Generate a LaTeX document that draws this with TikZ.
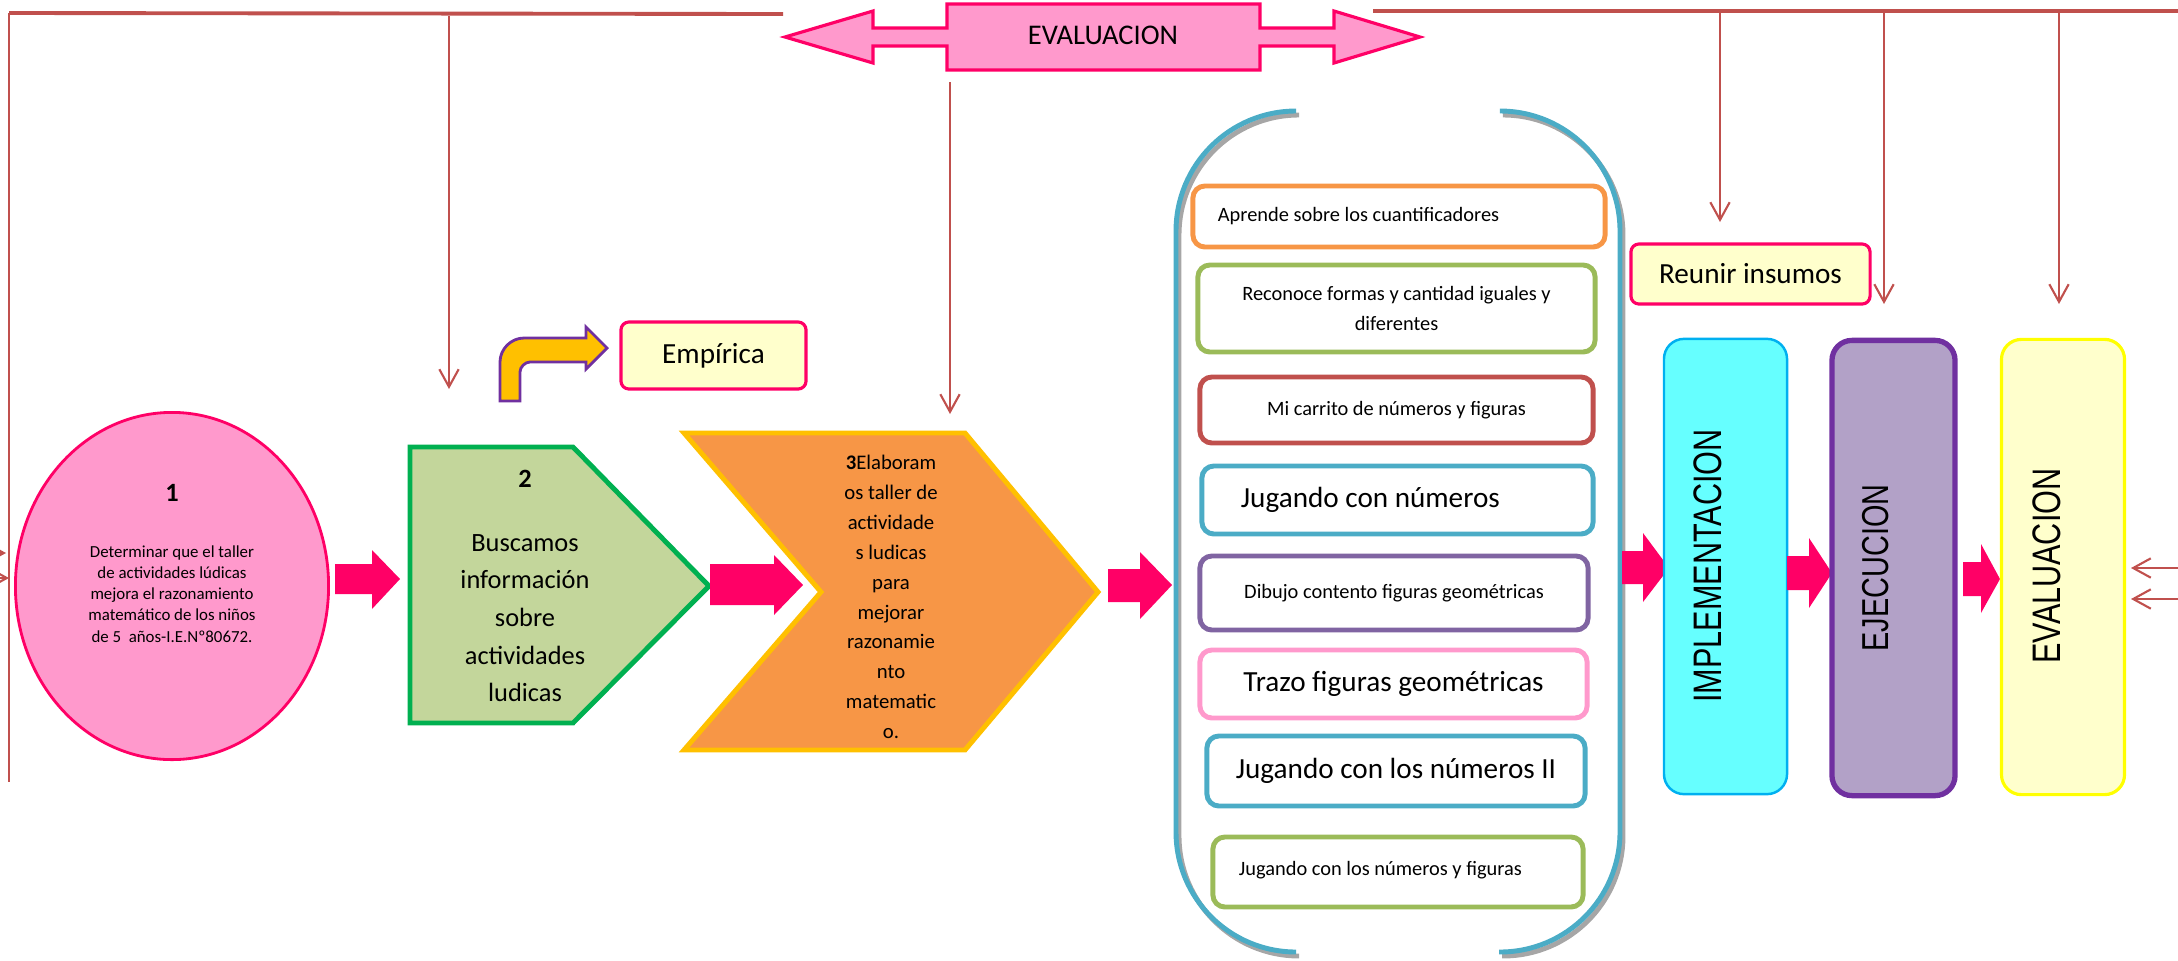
\documentclass[tikz,border=0pt]{standalone}
\usepackage{fontspec}
\setmainfont{Carlito}
\newfontfamily\arialfont{Liberation Sans}
\usepackage{graphicx}
\usepackage{tikz}
\usetikzlibrary{shapes.geometric,arrows.meta}

\definecolor{linered}{HTML}{C0504D}
\definecolor{pinkfill}{HTML}{FF99CC}
\definecolor{pinkborder}{HTML}{FF0066}
\definecolor{creamfill}{HTML}{FFFFCC}
\definecolor{sagefill}{HTML}{C3D69B}
\definecolor{sageborder}{HTML}{00B050}
\definecolor{orangefill}{HTML}{F79646}
\definecolor{goldborder}{HTML}{FFC000}
\definecolor{tealline}{HTML}{4BACC6}
\definecolor{itemgreen}{HTML}{9BBB59}
\definecolor{itempurple}{HTML}{8064A2}
\definecolor{cyanfill}{HTML}{66FFFF}
\definecolor{cyanborder}{HTML}{00B0F0}
\definecolor{lilacfill}{HTML}{B2A1C7}
\definecolor{violet}{HTML}{7030A0}
\definecolor{lemon}{HTML}{FFFF00}

\begin{document}
\begin{tikzpicture}[x=0.01cm,y=-0.01cm,
	feedback/.style={draw=linered,line width=0.6pt,-{Straight Barb[length=5pt,width=5.5pt]}},
	blockarrow/.style={fill=pinkborder},
	item/.style={draw=#1,line width=1.4pt,fill=white,rounded corners=0.12cm,inner sep=0pt},
	smalltext/.style={font=\fontsize{5.8}{8.5}\selectfont},
	bigtext/.style={font=\fontsize{8.3}{10}\selectfont},
	notebox/.style={draw=pinkborder,fill=creamfill,line width=0.9pt,rounded corners=0.08cm,font=\fontsize{8.3}{10}\selectfont},
	phase/.style 2 args={draw=#1,fill=#2,rounded corners=0.2cm,minimum width=1.23cm,minimum height=4.55cm,inner sep=0pt},
	phasetext/.style={rotate=90,font=\arialfont\fontsize{#1}{10}\selectfont}]
	\useasboundingbox (0,0) rectangle (2178,960);
	
	%feedback lines along the top
	\coordinate (tl) at (9,13);
	\coordinate (tm) at (783,14);
	\coordinate (bl) at (9,782);
	\coordinate (tr) at (1373,11);
	\coordinate (trr) at (2178,11);
	\draw[linered,line width=1.1pt] (tl) -- (tm);
	\draw[linered,line width=0.6pt] (tl) -- (bl);
	\draw[linered,line width=1.1pt] (tr) -- (trr);
	
	%the double arrow of the evaluation
	\filldraw[fill=pinkfill,draw=pinkborder,line width=0.9pt] (785,37) -- (873,11) -- (873,28) -- (947,28) -- (947,4) -- (1260,4) -- (1260,28) -- (1334,28) -- (1334,11) -- (1420,37) -- (1334,63) -- (1334,46) -- (1260,46) -- (1260,70) -- (947,70) -- (947,46) -- (873,46) -- (873,63) -- cycle;
	\node[font=\fontsize{8.1}{10}\selectfont] (evaltop) at (1103,35) {EVALUACION};
	
	%the arrows coming down
	\draw[feedback] (449,16) -- (449,389);
	\draw[feedback] (950,82) -- (950,414);
	\draw[feedback] (1720,11) -- (1720,222);
	\draw[feedback] (1884,11) -- (1884,304);
	\draw[feedback] (2059,11) -- (2059,304);
	
	%arrows at the two sides
	\draw[feedback] (-20,553) -- (6,553);
	\draw[feedback] (-20,578) -- (9,578);
	\draw[feedback] (2178,568) -- (2131,568);
	\draw[feedback] (2178,599) -- (2131,599);
	
	%step 1, the objective
	\node[ellipse,draw=pinkborder,fill=pinkfill,line width=0.8pt,minimum width=3.13cm,minimum height=3.47cm,inner sep=0pt] (obj) at (172,586) {};
	\node[font=\bfseries\fontsize{7.5}{9}\selectfont] (objnum) at (172,493) {1};
	\node[align=center,font=\fontsize{4.8}{6}\selectfont] (objtxt) at (172,594) {Determinar que el taller\\de actividades lúdicas\\mejora el razonamiento\\matemático de los niños\\de 5~ años-I.E.Nº80672.};
	\fill[blockarrow] (335,564) -- (372,564) -- (372,550) -- (400,579) -- (372,609) -- (372,594) -- (335,594) -- cycle;
	
	%step 2, the search
	\filldraw[fill=sagefill,draw=sageborder,line width=1.4pt] (410,447) -- (573,447) -- (709,586) -- (573,723) -- (410,723) -- cycle;
	\node[font=\bfseries\fontsize{7.5}{9}\selectfont] (searchnum) at (525,479) {2};
	\node[align=center,font=\fontsize{7.5}{10.7}\selectfont] (searchtxt) at (525,618) {Buscamos\\información\\sobre\\actividades\\ludicas};
	\filldraw[fill=goldborder,draw=violet,line width=0.8pt] (500,401) -- (500,362) .. controls (500,349) and (511,338) .. (524,338) -- (586,338) -- (586,327) -- (607,348) -- (586,369) -- (586,362) -- (530,362) .. controls (525,362) and (520,367) .. (520,372) -- (520,401) -- cycle;
	\node[notebox,minimum width=1.85cm,minimum height=0.67cm] (empirica) at (713.5,355.5) {Empírica};
	\fill[blockarrow] (710,564) -- (774,564) -- (774,555) -- (803,585) -- (774,615) -- (774,605) -- (710,605) -- cycle;
	
	%step 3, the workshop
	\filldraw[fill=orangefill,draw=goldborder,line width=1.4pt] (684,433) -- (965,433) -- (1098,592) -- (965,750) -- (684,750) -- (821,592) -- cycle;
	\node[align=center,font=\fontsize{5.9}{8.5}\selectfont] (worktxt) at (891,597) {\textbf{3}Elaboram\\os taller de\\actividade\\s ludicas\\para\\mejorar\\razonamie\\nto\\matematic\\o.};
	\fill[blockarrow] (1108,569) -- (1140,569) -- (1140,552) -- (1172,585) -- (1140,619) -- (1140,602) -- (1108,602) -- cycle;
	
	%the frame of the activities
	\draw[gray!70,line width=1.4pt,rounded corners=1.2cm,shift={(3,4)}] (1296,111) -- (1176,111) -- (1176,952) -- (1296,952);
	\draw[gray!70,line width=1.4pt,rounded corners=1.2cm,shift={(3,4)}] (1500,111) -- (1620,111) -- (1620,952) -- (1499,952);
	\draw[tealline,line width=1.4pt,rounded corners=1.2cm] (1296,111) -- (1176,111) -- (1176,952) -- (1296,952);
	\draw[tealline,line width=1.4pt,rounded corners=1.2cm] (1500,111) -- (1620,111) -- (1620,952) -- (1499,952);
	
	%the activities
	\node[item=orangefill,smalltext,text width=3.62cm,inner xsep=0.25cm,minimum height=0.61cm,align=flush left] (c1) at (1399,216.5) {Aprende sobre los cuantificadores};
	\node[item=itemgreen,smalltext,minimum width=3.97cm,minimum height=0.87cm,align=center] (c2) at (1396.5,308.5) {Reconoce formas y cantidad iguales y\\diferentes};
	\node[item=linered,smalltext,minimum width=3.93cm,minimum height=0.66cm,align=center] (c3) at (1396.5,410) {Mi carrito de números y figuras};
	\node[item=tealline,bigtext,text width=3.13cm,inner xsep=0.39cm,minimum height=0.68cm,align=flush left] (c4) at (1397.5,500) {Jugando con números};
	\node[item=itempurple,smalltext,minimum width=3.88cm,minimum height=0.74cm,align=center] (c5) at (1394,593) {Dibujo contento figuras geométricas};
	\node[item=pinkfill,bigtext,minimum width=3.87cm,minimum height=0.68cm,align=center] (c6) at (1393.5,684) {Trazo figuras geométricas};
	\node[item=tealline,bigtext,minimum width=3.78cm,minimum height=0.70cm,align=center] (c7) at (1396,771) {Jugando con los números II};
	\node[item=itemgreen,smalltext,text width=3.18cm,inner xsep=0.26cm,minimum height=0.70cm,align=flush left] (c8) at (1398,872) {\raisebox{0.07cm}{Jugando con los números y figuras}};
	
	%the phases
	\node[notebox,minimum width=2.39cm,minimum height=0.60cm] (reunir) at (1750.5,274) {Reunir insumos};
	\fill[blockarrow] (1622,551) -- (1643,551) -- (1643,533) -- (1669,568) -- (1643,602) -- (1643,584) -- (1622,584) -- cycle;
	\node[phase={cyanborder}{cyanfill},line width=0.7pt] (impl) at (1725.5,566.5) {};
	\node[phasetext=8.7] (impltxt) at (1708,566) {\scalebox{1}[1.3]{IMPLEMENTACION}};
	\fill[blockarrow] (1787,556) -- (1809,556) -- (1809,538) -- (1832,573) -- (1809,608) -- (1809,590) -- (1787,590) -- cycle;
	\node[phase={violet}{lilacfill},line width=1.5pt] (ejec) at (1893.5,568) {};
	\node[phasetext=8.2] (ejectxt) at (1876,568) {\scalebox{1}[1.3]{EJECUCION}};
	\fill[blockarrow] (1963,562) -- (1981,562) -- (1981,544) -- (2000,579) -- (1981,613) -- (1981,596) -- (1963,596) -- cycle;
	\node[phase={lemon}{creamfill},line width=0.9pt] (evalbox) at (2063,567) {};
	\node[phasetext=8.7] (evaltxt) at (2047,566) {\scalebox{1}[1.3]{EVALUACION}};
	
\end{tikzpicture}
\end{document}
